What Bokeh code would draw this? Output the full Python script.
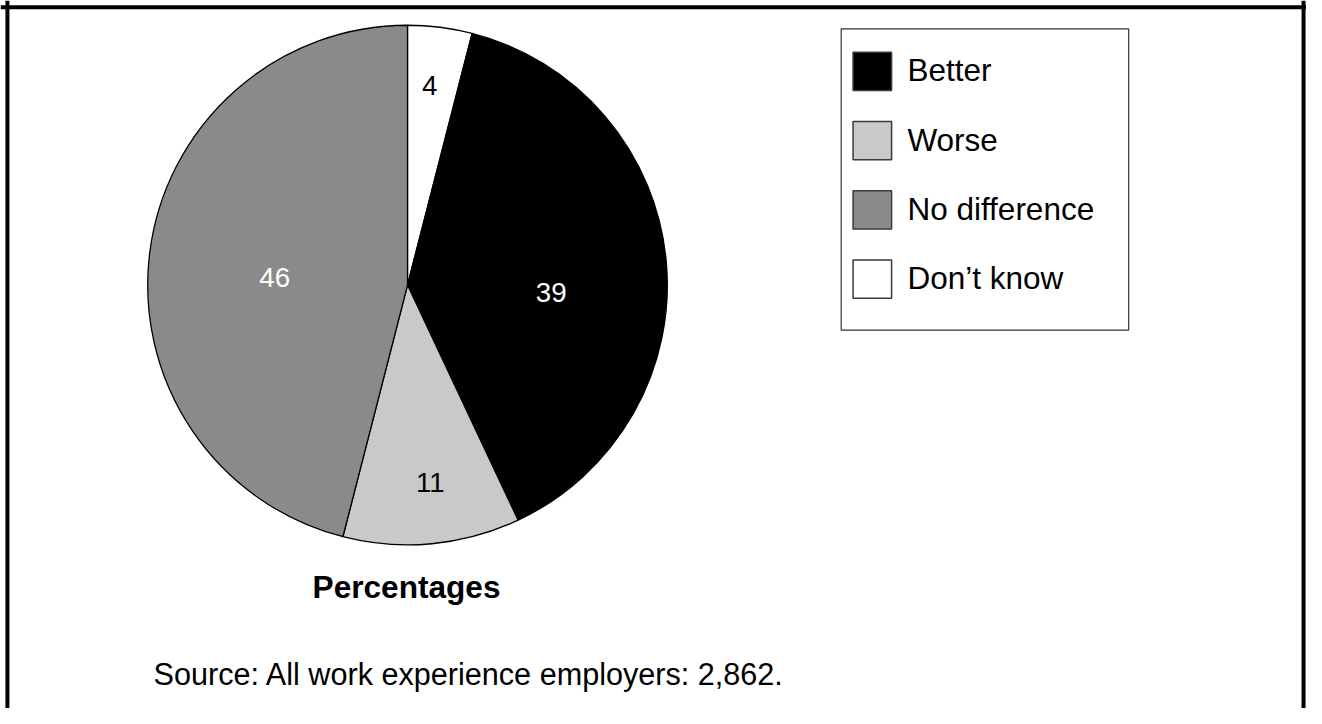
import math
from bokeh.plotting import figure
from bokeh.models import Range1d, Span, ColumnDataSource
from bokeh.core.properties import value
from bokeh.embed import file_html
from bokeh.resources import INLINE

# ---- data ----
categories = ["Better", "Worse", "No difference", "Don\u2019t know"]
values = [39, 11, 46, 4]
title_text = "Percentages"
source_text = "Source: All work experience employers: 2,862."

# ---- styles ----
colors = ["#000000", "#c8c9cb", "#898a8c", "#ffffff"]
label_colors = ["#ffffff", "#000000", "#ffffff", "#000000"]
pie_order = [3, 0, 1, 2]          # clockwise from 12 o'clock
label_rfrac = [0.554, 0.773, 0.512, 0.78]
label_nudge = [8.5, -1.1, -3.9, -0.9]   # degrees
FONT = "Liberation Sans"
RW, RH = 1322, 724  # layout coordinate space

W_FIG, H_FIG = 1306, 708
p = figure(width=W_FIG, height=H_FIG, x_range=Range1d(0, RW), y_range=Range1d(0, RH),
           x_axis_type=None, y_axis_type=None, output_backend="svg",
           toolbar_location=None, min_border=0)
p.grid.visible = False
p.outline_line_color = None
p.background_fill_color = "white"
p.border_fill_color = "white"

cx, cy, r = 412, RH - 291, 263
total = float(sum(values))

starts, ends, fills, lx, ly, ltxt, lcol = [], [], [], [], [], [], []
acc = 0.0
for i in pie_order:
    a0 = acc / total * 2 * math.pi
    acc += values[i]
    a1 = acc / total * 2 * math.pi
    starts.append(math.pi / 2 - a1)
    ends.append(math.pi / 2 - a0)
    fills.append(colors[i])
    mid = (a0 + a1) / 2 + math.radians(label_nudge[i])
    d = label_rfrac[i] * r
    lx.append(cx + d * math.sin(mid))
    ly.append(cy + d * math.cos(mid))
    ltxt.append(str(values[i]))
    lcol.append(label_colors[i])

src = ColumnDataSource(dict(start=starts, end=ends, fill=fills))
p.wedge(x=cx, y=cy, radius=r, start_angle="start", end_angle="end",
        fill_color="fill", line_color="black", line_width=1.3, source=src)

p.text(x=lx, y=ly, text=ltxt, text_color=lcol, text_font=value(FONT),
       text_font_size="27.7px", text_align="center", text_baseline="middle")

# title under pie
p.text(x=[411], y=[RH - 600], text=[title_text], text_font=value(FONT),
       text_font_size="31.6px", text_font_style="bold", text_color="black",
       text_align="center", text_baseline="middle")

# source note
p.text(x=[155], y=[RH - 689], text=[source_text], text_font=value(FONT),
       text_font_size="30.6px", text_color="black",
       text_align="left", text_baseline="middle")

# legend (drawn)
lg_left, lg_right, lg_top, lg_bottom = 851, 1142, 29, 337
p.quad(left=[lg_left], right=[lg_right], top=[RH - lg_top], bottom=[RH - lg_bottom],
       fill_color="white", line_color="#333333", line_width=1.2)
step = 70.8
sw_cy = [RH - (72.5 + k * step) for k in range(len(categories))]
p.rect(x=[882.5] * len(categories), y=sw_cy, width=39, height=39,
       fill_color=colors, line_color="#3a3a3a", line_width=1.5)
p.text(x=[918] * len(categories), y=[y + 1 for y in sw_cy], text=categories,
       text_font=value(FONT), text_font_size="31.5px", text_color="black",
       text_align="left", text_baseline="middle")

# frame (left, top, right)
p.add_layout(Span(location=7, dimension="height", line_color="black", line_width=4))
p.add_layout(Span(location=RH - 7, dimension="width", line_color="black", line_width=4))
p.add_layout(Span(location=RW - 3, dimension="height", line_color="black", line_width=4))

open("out.html", "w").write(file_html(p, INLINE))
